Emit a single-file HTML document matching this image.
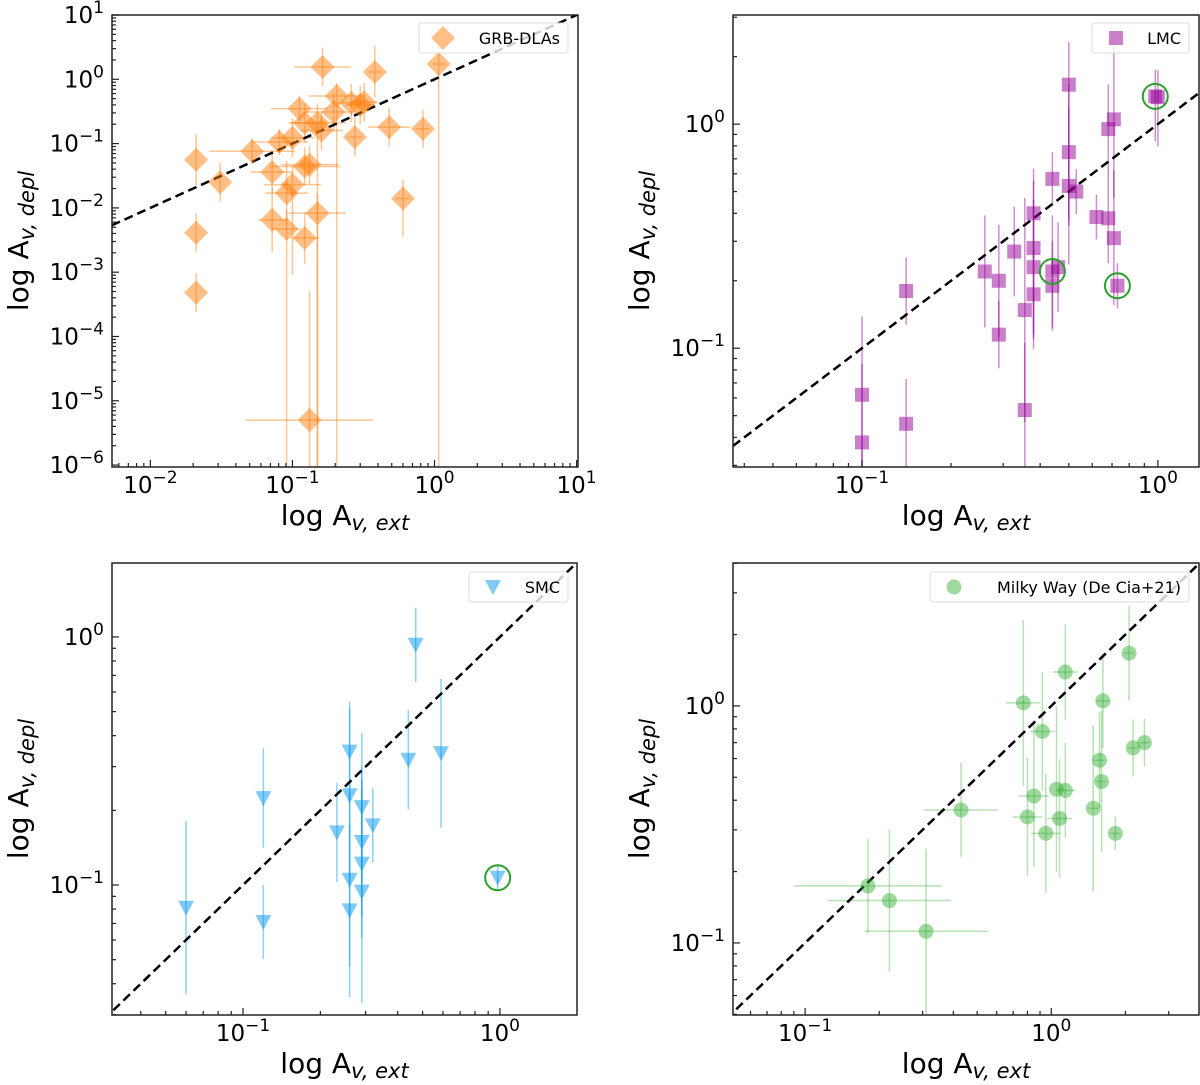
<!DOCTYPE html>
<html><head><meta charset="utf-8"><style>
html,body{margin:0;padding:0;background:#fff;overflow:hidden;}
svg{display:block;font-family:"DejaVu Sans","Liberation Sans",sans-serif;}
</style></head><body>
<svg id="fig" width="1200" height="1085" viewBox="0 0 1200 1085" xmlns="http://www.w3.org/2000/svg"></svg>
<script>
// ---------- GRB-DLAs (top-left) ----------
const grbX = [0.021,0.021,0.021,0.031,0.052,0.072,0.072,0.081,0.091,0.091,0.10,0.10,0.112,0.122,0.122,0.122,0.132,0.132,0.15,0.15,0.163,0.16,0.195,0.205,0.26,0.275,0.30,0.32,0.38,0.48,0.60,0.83,1.07];
const grbY = [0.056,0.0041,0.00048,0.025,0.076,0.036,0.0065,0.106,0.017,0.0047,0.023,0.123,0.35,0.21,0.044,0.0034,0.047,0.000005,0.0083,0.21,1.55,0.16,0.31,0.55,0.43,0.126,0.40,0.44,1.3,0.18,0.014,0.17,1.73];
const grbYerr = [0.4,0.3,0.3,0.3,0.2,0.3,0.5,0.2,0.5,9,1.4,0.3,0.2,0.3,0.3,0.4,0.3,9,9,9,0.3,0.3,0.3,9,0.3,0.3,0.3,0.3,0.4,0.3,0.6,0.3,9];
const grbYerrHi = [0.4,0.3,0.3,0.3,0.2,0.3,0.5,0.2,0.5,0.3,0.3,0.3,0.2,0.3,0.3,0.4,0.3,2.0,0.3,0.3,0.3,0.3,0.3,0.2,0.3,0.3,0.3,0.3,0.4,0.3,0.3,0.3,0.2];
const grbXerr = [0,0,0,0,0.3,0.15,0.1,0.2,0.15,0.1,0.2,0.15,0.2,0.1,0.25,0.1,0.2,0.45,0.2,0.2,0.2,0.15,0.2,0.2,0.1,0.05,0.1,0.1,0.05,0.15,0.05,0.05,0.05];
// ---------- LMC (top-right) ----------
const lmcX = [0.10,0.10,0.141,0.141,0.26,0.29,0.29,0.327,0.355,0.355,0.38,0.38,0.38,0.38,0.44,0.44,0.46,0.44,0.50,0.50,0.50,0.53,0.62,0.68,0.68,0.71,0.71,0.73,0.98,1.0];
const lmcY = [0.062,0.038,0.18,0.046,0.22,0.20,0.115,0.27,0.148,0.053,0.40,0.28,0.23,0.174,0.57,0.22,0.23,0.19,1.5,0.75,0.53,0.50,0.385,0.38,0.95,1.05,0.31,0.19,1.33,1.32];
const lmcYerr = [0.35,0.35,0.15,0.3,0.25,0.25,0.15,0.2,0.5,0.5,0.2,0.45,0.3,0.2,0.12,0.25,0.2,0.2,0.63,0.3,0.35,0.1,0.1,0.2,0.2,0.35,0.3,0.1,0.2,0.22];
const lmcYerrHi = [0.35,0.35,0.15,0.2,0.25,0.25,0.15,0.2,0.5,0.3,0.2,0.3,0.3,0.2,0.12,0.25,0.2,0.2,0.19,0.3,0.35,0.1,0.1,0.2,0.2,0.35,0.3,0.1,0.12,0.12];
const lmcCircX = [0.44,0.73,0.98];
const lmcCircY = [0.22,0.19,1.33];
// ---------- SMC (bottom-left) ----------
const smcX = [0.060,0.12,0.12,0.232,0.26,0.26,0.26,0.26,0.29,0.29,0.29,0.29,0.32,0.44,0.47,0.59,0.98];
const smcY = [0.081,0.224,0.071,0.163,0.345,0.23,0.105,0.079,0.206,0.149,0.122,0.094,0.174,0.32,0.93,0.34,0.107];
const smcYerr = [0.35,0.2,0.15,0.2,0.2,0.35,0.35,0.35,0.3,0.3,0.3,0.45,0.15,0.2,0.15,0.3,0.05];
const smcCircX = [0.98];
const smcCircY = [0.107];
// ---------- Milky Way (bottom-right) ----------
const mwX = [0.18,0.22,0.31,0.43,0.77,0.80,0.85,0.92,0.95,1.05,1.08,1.14,1.14,1.48,1.57,1.60,1.62,1.82,2.07,2.15,2.39];
const mwY = [0.174,0.151,0.112,0.364,1.03,0.34,0.417,0.78,0.29,0.445,0.335,1.39,0.44,0.37,0.59,0.48,1.05,0.29,1.67,0.665,0.70];
const mwYerr = [0.2,0.3,0.35,0.2,0.35,0.25,0.3,0.25,0.25,0.35,0.25,0.2,0.2,0.35,0.2,0.3,0.2,0.07,0.2,0.12,0.1];
const mwXerr = [0.3,0.25,0.25,0.15,0.07,0.06,0.06,0.05,0.06,0.0,0.05,0.05,0.04,0.02,0.02,0.02,0.03,0.02,0.02,0.02,0.02];

const NS = "http://www.w3.org/2000/svg";
const fig = document.getElementById('fig');
function el(tag, attrs, parent){
  const e = document.createElementNS(NS, tag);
  for (const k in attrs) e.setAttribute(k, attrs[k]);
  (parent||fig).appendChild(e);
  return e;
}
function supText(parent, x, y, exp, anchor){
  const t = el('text', {x:x, y:y, 'font-size':23, 'text-anchor':anchor, fill:'#000'}, parent);
  
  
  t.appendChild(document.createTextNode('10'));
  const s = el('tspan', {dy:-10, 'font-size':17}, t);
  s.textContent = exp < 0 ? '\u2212' + (-exp) : String(exp);
  return t;
}

function panel(cfg){
  const g = el('g', {});
  
  
  const b = cfg.box;
  const sx = v => b.x0 + (Math.log10(v) - cfg.xl[0]) / (cfg.xl[1] - cfg.xl[0]) * (b.x1 - b.x0);
  const sy = v => b.y1 - (Math.log10(v) - cfg.yl[0]) / (cfg.yl[1] - cfg.yl[0]) * (b.y1 - b.y0);
  const cid = 'clip-' + cfg.name;
  const cp = el('clipPath', {id: cid}, g);
  el('rect', {x:b.x0, y:b.y0, width:b.x1-b.x0, height:b.y1-b.y0}, cp);
  const plot = el('g', {'clip-path':'url(#' + cid + ')'}, g);
  
  

  const X = cfg.x, Y = cfg.y;
  for (let i = 0; i < X.length; i++){
    const ye = cfg.yerr ? cfg.yerr[i] : 0;
    const yh = cfg.yerrHi ? cfg.yerrHi[i] : ye;
    if (ye > 0){
      const l = el('line', {x1:sx(X[i]), x2:sx(X[i]), y1:sy(Y[i]*Math.pow(10,-ye)), y2:sy(Y[i]*Math.pow(10,yh)), stroke:cfg.ecol, 'stroke-width':1.5}, plot);
      
      
    }
    const xe = cfg.xerr ? cfg.xerr[i] : 0;
    if (xe > 0){
      const l = el('line', {y1:sy(Y[i]), y2:sy(Y[i]), x1:sx(X[i]*Math.pow(10,-xe)), x2:sx(X[i]*Math.pow(10,xe)), stroke:cfg.ecol, 'stroke-width':1.5}, plot);
      
      
    }
  }
  const lo = Math.pow(10, Math.min(cfg.xl[0], cfg.yl[0]) - 1), hi = Math.pow(10, Math.max(cfg.xl[1], cfg.yl[1]) + 1);
  const dl = el('line', {x1:sx(lo), y1:sy(lo), x2:sx(hi), y2:sy(hi), stroke:'#000', 'stroke-width':2.5, 'stroke-dasharray':'9,5'}, plot);
  
  
  for (let i = 0; i < X.length; i++){
    const m = drawMarker(plot, cfg.marker, sx(X[i]), sy(Y[i]), cfg.col);
    
    
  }
  if (cfg.cx){
    for (let i = 0; i < cfg.cx.length; i++){
      const c = el('circle', {cx:sx(cfg.cx[i]), cy:sy(cfg.cy[i]), r:12.5, fill:'none', stroke:'#2ca02c', 'stroke-width':2}, plot);
      
      
    }
  }
  const fr = el('rect', {x:b.x0, y:b.y0, width:b.x1-b.x0, height:b.y1-b.y0, fill:'none', stroke:'#222', 'stroke-width':1.5}, g);
  
  
  for (let d = Math.floor(cfg.xl[0]); d <= Math.ceil(cfg.xl[1]); d++){
    for (let m = 1; m < 10; m++){
      const v = m * Math.pow(10, d), lv = Math.log10(v);
      if (lv < cfg.xl[0] - 1e-9 || lv > cfg.xl[1] + 1e-9) continue;
      const x = sx(v), len = m === 1 ? 7 : 4;
      el('line', {x1:x, x2:x, y1:b.y1, y2:b.y1 - len, stroke:'#222', 'stroke-width':1.2}, g);
      if (m === 1) supText(g, x, b.y1 + 26, d, 'middle');
    }
  }
  for (let d = Math.floor(cfg.yl[0]); d <= Math.ceil(cfg.yl[1]); d++){
    for (let m = 1; m < 10; m++){
      const v = m * Math.pow(10, d), lv = Math.log10(v);
      if (lv < cfg.yl[0] - 1e-9 || lv > cfg.yl[1] + 1e-9) continue;
      const y = sy(v), len = m === 1 ? 7 : 4;
      el('line', {x1:b.x0, x2:b.x0 + len, y1:y, y2:y, stroke:'#222', 'stroke-width':1.2}, g);
      if (m === 1) supText(g, b.x0 - 8, y + 8, d, 'end');
    }
  }
  const xt = el('text', {x:(b.x0+b.x1)/2, y:b.y1 + 58, 'font-size':28, 'text-anchor':'middle'}, g);
  
  
  xt.innerHTML = 'log A<tspan dy="5" font-size="21" font-style="italic">v, ext</tspan>';
  const yc = (b.y0+b.y1)/2, yx = b.x0 - 84;
  const yt = el('text', {x:yx, y:yc, 'font-size':28, 'text-anchor':'middle', transform:'rotate(-90 ' + yx + ' ' + yc + ')'}, g);
  
  
  yt.innerHTML = 'log A<tspan dy="6" font-size="21" font-style="italic">v, depl</tspan>';
  const L = cfg.leg;
  const lg = el('g', {}, g);
  
  
  el('rect', {x:L[0], y:L[1], width:L[2], height:30, rx:3, fill:'rgba(255,255,255,0.8)', stroke:'#ddd', 'stroke-width':1}, lg);
  drawMarker(lg, cfg.marker, L[0] + 24, L[1] + 15, cfg.col);
  const lt = el('text', {x:L[0] + L[2] - 8, y:L[1] + 21, 'font-size':16, 'text-anchor':'end'}, lg);
  lt.textContent = cfg.label;
}

function drawMarker(parent, type, x, y, col){
  let m;
  if (type === 'D'){
    m = el('polygon', {points:(x)+','+(y-12)+' '+(x+12)+','+y+' '+x+','+(y+12)+' '+(x-12)+','+y, fill:col}, parent);
  } else if (type === 's'){
    m = el('rect', {x:x-7, y:y-7, width:14, height:14, fill:col}, parent);
  } else if (type === 'v'){
    m = el('polygon', {points:(x-8)+','+(y-7)+' '+(x+8)+','+(y-7)+' '+x+','+(y+8), fill:col}, parent);
  } else {
    m = el('circle', {cx:x, cy:y, r:7.5, fill:col}, parent);
  }
  return m;
}

panel({name:'grb-dla-panel', box:{x0:112,y0:15,x1:578,y1:467}, xl:[-2.27,1.01], yl:[-6.03,1.0],
  x:grbX, y:grbY, yerr:grbYerr, yerrHi:grbYerrHi, xerr:grbXerr, marker:'D', col:'rgba(255,127,14,0.5)', ecol:'rgba(255,127,14,0.45)',
  leg:[419,23,149], label:'GRB-DLAs'});
panel({name:'lmc-panel', box:{x0:733,y0:15,x1:1199,y1:467}, xl:[-1.436,0.139], yl:[-1.53,0.487],
  x:lmcX, y:lmcY, yerr:lmcYerr, yerrHi:lmcYerrHi, marker:'s', col:'rgba(150,0,150,0.5)', ecol:'rgba(150,0,150,0.45)',
  cx:lmcCircX, cy:lmcCircY, leg:[1092,23,97], label:'LMC'});
panel({name:'smc-panel', box:{x0:112,y0:563,x1:577,y1:1015}, xl:[-1.51,0.30], yl:[-1.524,0.298],
  x:smcX, y:smcY, yerr:smcYerr, marker:'v', col:'rgba(0,150,240,0.5)', ecol:'rgba(0,150,240,0.45)',
  cx:smcCircX, cy:smcCircY, leg:[469,572,99], label:'SMC'});
panel({name:'milky-way-panel', box:{x0:733,y0:563,x1:1199,y1:1015}, xl:[-1.293,0.60], yl:[-1.304,0.603],
  x:mwX, y:mwY, yerr:mwYerr, xerr:mwXerr, marker:'o', col:'rgba(44,170,44,0.45)', ecol:'rgba(44,170,44,0.35)',
  leg:[930,572,259], label:'Milky Way (De Cia+21)'});
</script>
</body></html>
